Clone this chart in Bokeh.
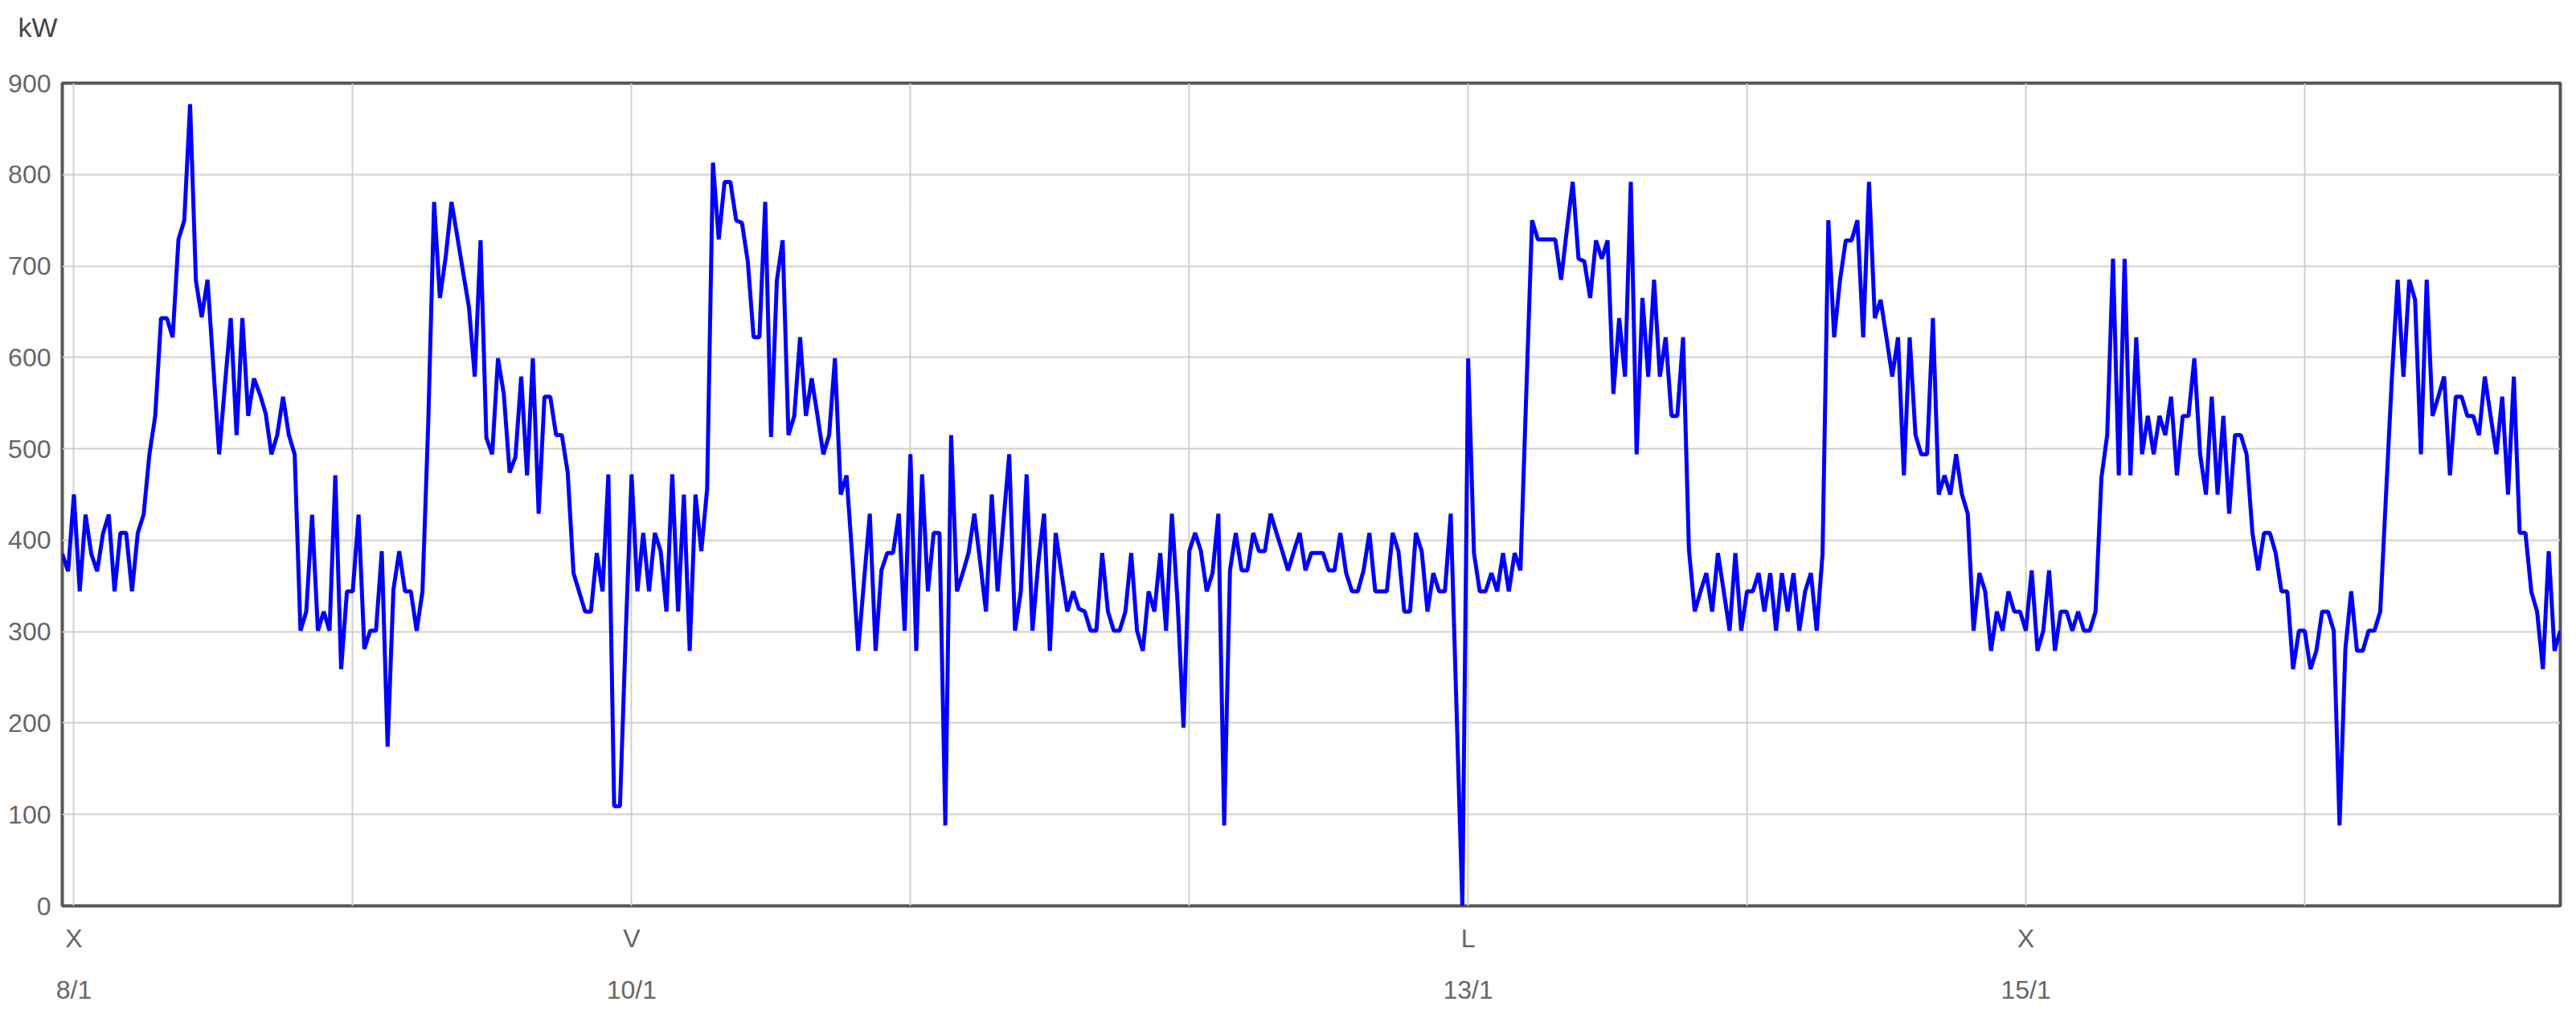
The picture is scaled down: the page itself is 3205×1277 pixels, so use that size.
from datetime import datetime, timedelta

from bokeh.embed import file_html
from bokeh.models import FixedTicker, Range1d, Title
from bokeh.plotting import figure
from bokeh.resources import INLINE

# ---- data: half-hourly power readings (kW) from 7/1 23:00 ----
START = datetime(2020, 1, 7, 23, 0)
STEP_MINUTES = 30

kw_day0 = [385, 366]
kw_day1 = [450, 344, 428, 385, 366, 407, 428, 344, 408, 408, 344, 408, 428, 494, 536, 643,
           643, 622, 729, 750, 877, 684, 644, 685, 590, 494, 570, 643, 515, 643, 536, 577,
           560, 539, 494, 515, 557, 515, 494, 301, 322, 428, 301, 322, 301, 471, 259, 344]
kw_day2 = [344, 428, 281, 301, 301, 388, 174, 346, 388, 344, 344, 301, 344, 530, 770, 665,
           710, 770, 732, 693, 655, 579, 728, 512, 494, 599, 560, 474, 491, 579, 471, 599,
           429, 557, 557, 515, 515, 474, 364, 343, 322, 322, 386, 344, 472, 109, 109, 300]
kw_day3 = [472, 344, 408, 344, 408, 388, 322, 472, 322, 450, 279, 450, 388, 456, 813, 729,
           792, 792, 750, 747, 705, 622, 622, 770, 513, 684, 728, 515, 536, 622, 536, 577,
           536, 494, 515, 599, 450, 471, 380, 279, 355, 429, 279, 367, 386, 386, 429, 301]
kw_day4 = [494, 279, 472, 344, 408, 408, 88, 515, 344, 364, 386, 429, 376, 322, 450, 344,
           420, 494, 301, 344, 472, 301, 375, 429, 279, 408, 364, 322, 344, 325, 322, 301,
           301, 386, 322, 301, 301, 322, 386, 301, 279, 344, 322, 386, 301, 429, 330, 195]
kw_day5 = [388, 408, 388, 344, 364, 429, 88, 367, 408, 367, 367, 408, 388, 388, 429, 408,
           388, 367, 388, 408, 367, 386, 386, 386, 367, 367, 408, 364, 344, 344, 367, 408,
           344, 344, 344, 408, 388, 322, 322, 408, 388, 322, 364, 344, 344, 429, 215, 0]
kw_day6 = [599, 386, 344, 344, 364, 344, 386, 344, 386, 367, 560, 750, 729, 729, 729, 729,
           685, 740, 792, 708, 705, 665, 728, 708, 728, 560, 643, 579, 792, 494, 665, 579,
           685, 579, 622, 536, 536, 622, 390, 322, 344, 364, 322, 386, 344, 301, 386, 301]
kw_day7 = [344, 344, 364, 322, 364, 301, 364, 322, 364, 301, 344, 364, 301, 385, 750, 622,
           684, 728, 728, 750, 622, 792, 643, 663, 622, 579, 622, 471, 622, 515, 494, 494,
           643, 450, 471, 450, 494, 450, 429, 301, 364, 344, 279, 322, 301, 344, 322, 322]
kw_day8 = [301, 367, 279, 301, 367, 279, 322, 322, 301, 322, 301, 301, 322, 468, 515, 708,
           471, 708, 471, 622, 494, 536, 494, 536, 515, 557, 471, 536, 536, 599, 494, 450,
           557, 450, 536, 429, 515, 515, 494, 408, 367, 408, 408, 386, 344, 344, 259, 301]
kw_day9 = [301, 259, 279, 322, 322, 301, 88, 281, 344, 279, 279, 301, 301, 322, 450, 577,
           685, 579, 685, 663, 494, 685, 536, 557, 579, 471, 557, 557, 536, 536, 515, 579,
           536, 494, 557, 450, 579, 408, 408, 344, 322, 259, 388, 279, 301]

kw = (kw_day0 + kw_day1 + kw_day2 + kw_day3 + kw_day4 + kw_day5
      + kw_day6 + kw_day7 + kw_day8 + kw_day9)
times = [START + timedelta(minutes=STEP_MINUTES * i) for i in range(len(kw))]

# x-axis: one gridline per day, labels only on some days
tick_days = [8, 9, 10, 11, 12, 13, 14, 15, 16]
tick_labels = ["X\n8/1", "", "V\n10/1", "", "", "L\n13/1", "", "X\n15/1", ""]
y_ticks = [0, 100, 200, 300, 400, 500, 600, 700, 800, 900]
unit_label = "kW"

EPOCH = datetime(1970, 1, 1)


def to_ms(dt):
    return (dt - EPOCH).total_seconds() * 1000.0


tick_ms = [to_ms(datetime(2020, 1, d)) for d in tick_days]

FONT = "Liberation Sans"
TICK_COLOR = "#666666"

p = figure(
    width=3197, height=1262,
    x_axis_type="datetime",
    x_range=Range1d(times[0], times[-1]),
    y_range=Range1d(0, 900),
    output_backend="svg", toolbar_location=None,
    min_border_left=77, min_border_right=12,
    min_border_top=103, min_border_bottom=135,
)
p.background_fill_color = "white"
p.border_fill_color = "white"
p.outline_line_color = "#555555"
p.outline_line_width = 4

p.line(times, kw, line_color="#0000ff", line_width=5)

# unit label in the top-left corner (main title, outermost)
p.title.text = unit_label
p.title.align = "left"
p.title.offset = -55
p.title.standoff = 4
p.title.text_font = FONT
p.title.text_font_size = "34px"
p.title.text_font_style = "normal"
p.title.text_color = "#444444"

# invisible spacer between the unit label and the frame
p.add_layout(Title(text="\u00a0", text_font=FONT, text_font_size="10px",
                   standoff=36), "above")

# axes
p.xaxis.ticker = FixedTicker(ticks=tick_ms)
p.xaxis.major_label_overrides = {t: lab for t, lab in zip(tick_ms, tick_labels)}
p.yaxis.ticker = FixedTicker(ticks=y_ticks)
for ax in (p.xaxis[0], p.yaxis[0]):
    ax.axis_line_color = None
    ax.major_tick_line_color = None
    ax.minor_tick_line_color = None
    ax.major_tick_out = 0
    ax.major_tick_in = 0
    ax.minor_tick_out = 0
    ax.major_label_text_font = FONT
    ax.major_label_text_font_size = "32px"
    ax.major_label_text_color = TICK_COLOR
p.xaxis.major_label_standoff = 22
p.xaxis.major_label_text_line_height = 1.8
p.yaxis.major_label_standoff = 14

p.xgrid.grid_line_color = "#d0d0d0"
p.xgrid.grid_line_width = 2
p.ygrid.grid_line_color = "#d0d0d0"
p.ygrid.grid_line_width = 2

open("out.html", "w").write(file_html(p, INLINE))
